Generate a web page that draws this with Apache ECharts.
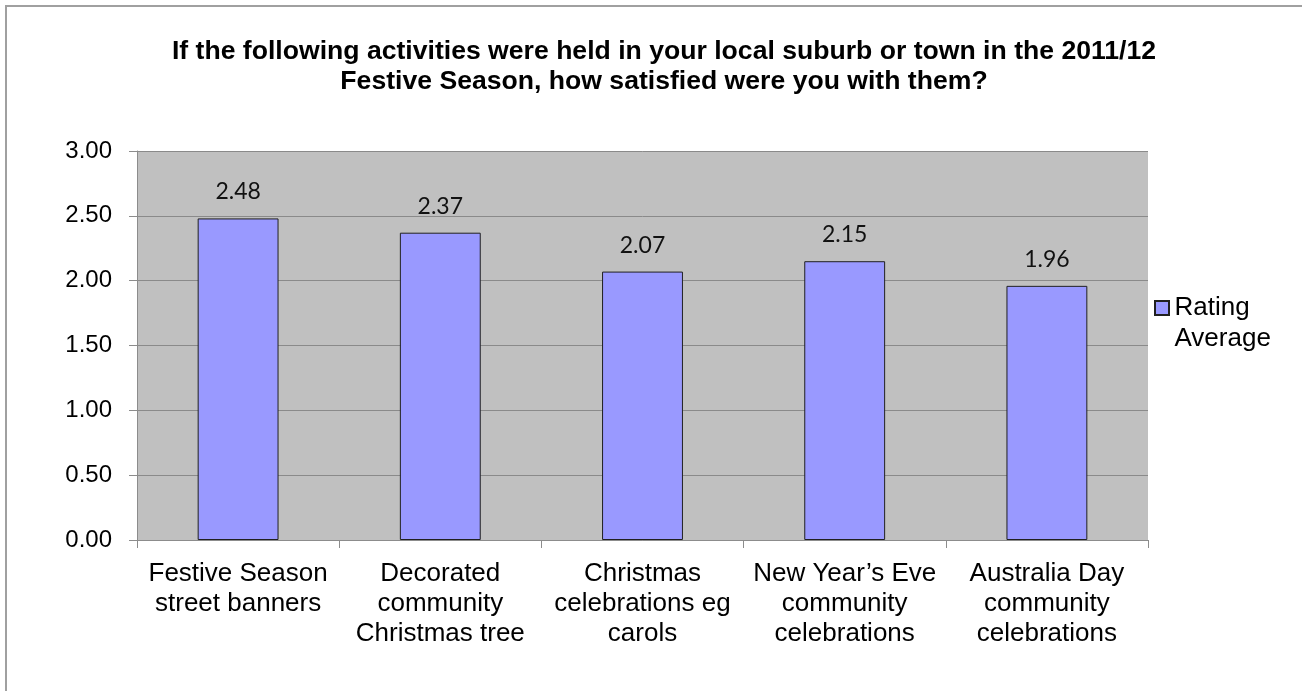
<!DOCTYPE html>
<html>
<head>
<meta charset="utf-8">
<script src="https://cdn.jsdelivr.net/npm/echarts@6/dist/echarts.min.js"></script>
<style>
  html, body { margin: 0; padding: 0; background: #fff; overflow: hidden; }
  #frame { position: absolute; left: 5px; top: 5px; width: 1400px; height: 800px; border: 2px solid #a0a0a0; box-sizing: border-box; }
  #chart { position: absolute; left: 0; top: 0; width: 1302px; height: 691px; }
</style>
</head>
<body>
<div id="frame"></div>
<div id="chart"></div>
<script>
// Activities (axis categories) and their average satisfaction ratings
const categories = [
  'Festive Season\nstreet banners',
  'Decorated\ncommunity\nChristmas tree',
  'Christmas\ncelebrations eg\ncarols',
  'New Year\u2019s Eve\ncommunity\ncelebrations',
  'Australia Day\ncommunity\ncelebrations'
];
const ratingAverage = [2.48, 2.37, 2.07, 2.15, 1.96];
const seriesName = 'Rating\nAverage';
const yTicks = { min: 0, max: 3, interval: 0.5 };
const titleText = 'If the following activities were held in your local suburb or town in the 2011/12\nFestive Season, how satisfied were you with them?';

// Legend swatch sits beside the first text line: a square plus an empty move-to
// below it, so the symbol box spans the two-line label.
const legendIcon = 'path://M0,0L14,0L14,14L0,14Z M0,44L0,44';

const chart = echarts.init(document.getElementById('chart'));
chart.setOption({
  animation: false,
  backgroundColor: 'transparent',
  title: {
    text: titleText,
    left: 659,
    textAlign: 'center',
    top: 32,
    textStyle: { fontFamily: 'Liberation Sans', fontWeight: 'bold', fontSize: 26.6, lineHeight: 30, color: '#000' }
  },
  legend: {
    data: [{ name: seriesName, icon: legendIcon }],
    left: 1149,
    top: 287,
    orient: 'vertical',
    itemWidth: 15,
    itemHeight: 44,
    itemGap: 4,
    textStyle: { fontFamily: 'Liberation Sans', fontSize: 26, lineHeight: 31, color: '#000' }
  },
  grid: { left: 137, right: 1302 - 1148, top: 151, bottom: 691 - 540, containLabel: false },
  xAxis: {
    type: 'category',
    data: categories,
    axisLine: { lineStyle: { color: '#8c8c8c', width: 1 } },
    axisTick: { show: true, alignWithLabel: false, length: 8, lineStyle: { color: '#8c8c8c' } },
    axisLabel: { fontFamily: 'Liberation Sans', fontSize: 26, lineHeight: 30, color: '#000', margin: 19, interval: 0 }
  },
  yAxis: {
    type: 'value',
    min: yTicks.min,
    max: yTicks.max,
    interval: yTicks.interval,
    axisLine: { show: true, lineStyle: { color: '#8c8c8c', width: 1 } },
    axisTick: { show: true, length: 8, lineStyle: { color: '#8c8c8c' } },
    axisLabel: { fontFamily: 'Liberation Sans', fontSize: 24, color: '#000', margin: 25, formatter: v => v.toFixed(2) },
    splitLine: { show: true, lineStyle: { color: '#8a8a8a', width: 1 } },
    splitArea: { show: true, areaStyle: { color: ['#c0c0c0', '#c0c0c0'] } }
  },
  series: [{
    name: seriesName,
    type: 'bar',
    data: ratingAverage,
    barWidth: '40%',
    itemStyle: { color: '#9999ff', borderColor: '#202020', borderWidth: 1 },
    label: {
      show: true,
      position: 'top',
      distance: 15,
      formatter: p => p.value.toFixed(2),
      fontFamily: 'Lato',
      fontSize: 23,
      color: '#111'
    }
  }]
});
</script>
</body>
</html>
